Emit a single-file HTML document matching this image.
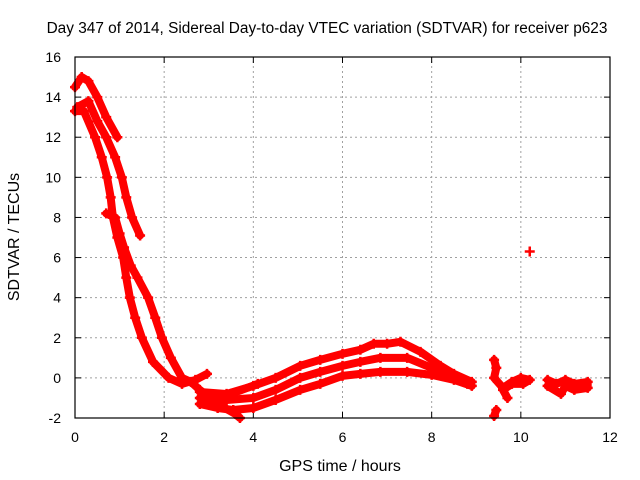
<!DOCTYPE html>
<html><head><meta charset="utf-8"><style>
body{margin:0;background:#fff}
svg{display:block;font-family:"Liberation Sans",sans-serif}
</style></head><body>
<svg id="chart" width="640" height="480">
<rect width="640" height="480" fill="#fff"/>
<text x="327" y="33" font-size="15.4" text-anchor="middle">Day 347 of 2014, Sidereal Day-to-day VTEC variation (SDTVAR) for receiver p623</text>
<text x="340" y="471" font-size="16" text-anchor="middle">GPS time / hours</text>
<text x="0" y="0" font-size="16" text-anchor="middle" transform="translate(19,237) rotate(-90)">SDTVAR / TECUs</text>
<g id="grid"></g>
<g id="ticks"></g>
<g id="marks"></g>
<rect x="75" y="57" width="535" height="361" fill="none" stroke="#000" stroke-width="1.2"/>
</svg>
<script>
const xTicks=[0,2,4,6,8,10,12];
const yTicks=[-2,0,2,4,6,8,10,12,14,16];
const track1=[[0,14.5],[0.15,15],[0.3,14.8],[0.5,14],[0.7,13],[0.95,12]];
const track2=[[0.05,13.5],[0.3,13.8],[0.5,12.8],[0.7,12],[0.9,11],[1.05,10],[1.15,9],[1.28,8],[1.46,7.1]];
const track3=[[0,13.3],[0.2,13.3],[0.45,12],[0.6,11],[0.72,10],[0.8,9],[0.85,8],[0.95,7],[1.08,6],[1.15,5],[1.23,4],[1.35,3],[1.5,2],[1.75,0.8],[2.1,0],[2.4,-0.3],[2.7,-0.1],[2.96,0.2]];
const track4=[[0.7,8.2],[0.9,8],[1.0,7.2],[1.1,6.5],[1.25,5.6],[1.4,5],[1.64,4],[1.8,3],[1.95,2],[2.15,1],[2.4,0],[2.6,-0.2],[2.8,-0.6],[3.2,-1.3],[3.6,-1.8],[3.7,-2]];
const track5=[[2.8,-0.7],[3.4,-0.8],[4.0,-0.4],[4.5,0],[5.05,0.6],[5.5,0.9],[6.0,1.2],[6.4,1.4],[6.7,1.7],[7.0,1.7],[7.3,1.8],[7.75,1.3],[8.2,0.6],[8.5,0.2],[8.9,-0.2]];
const track6=[[2.8,-1.0],[3.4,-1.1],[4.0,-1.0],[4.5,-0.6],[5.05,0],[5.5,0.3],[6.0,0.6],[6.4,0.8],[6.85,1.0],[7.45,1.0],[8.0,0.5],[8.4,0.1],[8.8,-0.3]];
const track7=[[2.8,-1.3],[3.2,-1.5],[3.55,-1.6],[4.0,-1.5],[4.5,-1.1],[5.05,-0.6],[5.5,-0.3],[6.0,0.1],[6.4,0.2],[6.85,0.3],[7.45,0.3],[8.0,0.15],[8.5,-0.1],[8.9,-0.4]];
const track8=[[2.9,-0.9],[3.5,-0.8],[4.1,-0.3]];
const track9=[[9.4,0.9],[9.45,0.5],[9.4,0.0],[9.6,-0.5],[9.8,-0.2],[10.0,0.0],[10.2,-0.1],[10.05,-0.3],[9.8,-0.3],[9.6,-0.6],[9.7,-1.0]];
const track10=[[9.45,-1.6],[9.4,-1.9]];
const track11=[[10.2,6.3]];
const track12=[[10.6,-0.1],[10.8,-0.3],[11.0,-0.1],[11.2,-0.3],[11.5,-0.2],[11.5,-0.5],[11.2,-0.6],[11.0,-0.4],[10.9,-0.8],[10.6,-0.4]];
const tracks=[track1,track2,track3,track4,track5,track6,track7,track8,track9,track10,track11,track12];

const X0=75,X1=610,Y0=418,Y1=57;
const sx=v=>X0+(v-0)/(12-0)*(X1-X0);
const sy=v=>Y0-(v-(-2))/(16-(-2))*(Y0-Y1);
const NS="http://www.w3.org/2000/svg";
const grid=document.getElementById('grid'),ticks=document.getElementById('ticks'),marks=document.getElementById('marks');
function mk(tag,attrs,parent){const e=document.createElementNS(NS,tag);for(const k in attrs)e.setAttribute(k,attrs[k]);parent.appendChild(e);return e;}
xTicks.forEach(t=>{
  const x=sx(t);
  if(t>0&&t<12){const g=mk('line',{x1:x,x2:x,y1:Y0,y2:Y1,stroke:'#a0a0a0','stroke-dasharray':'2,3'},grid);
  
  }
  mk('line',{x1:x,x2:x,y1:Y0,y2:Y0-6,stroke:'#000'},ticks);
  mk('line',{x1:x,x2:x,y1:Y1,y2:Y1+6,stroke:'#000'},ticks);
  const l=mk('text',{x:x,y:Y0+24,'font-size':14,'text-anchor':'middle'},ticks);
  l.textContent=t;
  
  
});
yTicks.forEach(t=>{
  const y=sy(t);
  if(t>-2&&t<16){const g=mk('line',{x1:X0,x2:X1,y1:y,y2:y,stroke:'#a0a0a0','stroke-dasharray':'2,3'},grid);
  
  }
  mk('line',{x1:X0,x2:X0+6,y1:y,y2:y,stroke:'#000'},ticks);
  mk('line',{x1:X1,x2:X1-6,y1:y,y2:y,stroke:'#000'},ticks);
  const l=mk('text',{x:X0-14,y:y+5,'font-size':14,'text-anchor':'end'},ticks);
  l.textContent=t;
  
  
});
tracks.forEach((tr,i)=>{
  if(tr.length>1){
    const p=mk('polyline',{points:tr.map(d=>sx(d[0])+','+sy(d[1])).join(' '),fill:'none',stroke:'#ff0000','stroke-width':8,'stroke-linejoin':'round','stroke-linecap':'round'},marks);
    
    
  }
  tr.forEach(d=>{
    const x=sx(d[0]),y=sy(d[1]);
    const m=mk('path',{d:`M${x-5},${y}H${x+5}M${x},${y-5}V${y+5}`,stroke:'#ff0000','stroke-width':2.5},marks);
    
    
  });
});
</script>
</body></html>
